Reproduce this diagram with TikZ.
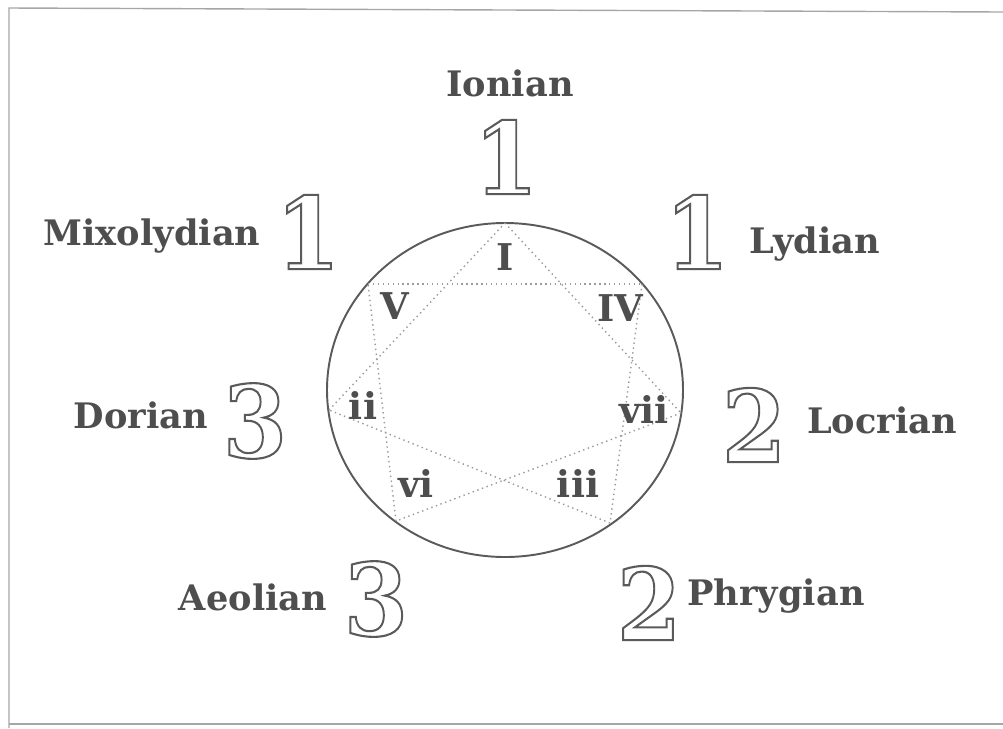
\documentclass[tikz,border=0pt]{standalone}
\usepackage{fontspec}
\usepackage{graphicx}
\newfontfamily\modefont{DejaVu Serif}
\definecolor{inkgray}{HTML}{4E4E4E}
\definecolor{rimgray}{HTML}{5A5A5A}
\definecolor{chordgray}{HTML}{9A9A9A}
% outlined digit: stroke only, no fill
\newcommand{\outnum}[1]{\scalebox{0.92}[1]{\special{pdf:literal direct 1 Tr 1.2 w}#1\special{pdf:literal direct 0 Tr}}}

\begin{document}
\begin{tikzpicture}[x=0.02cm, y=-0.02cm,
    every node/.style={inner sep=0pt},
    mode/.style={font=\modefont\bfseries\fontsize{20}{24}\selectfont, text=inkgray},
    degree/.style={font=\modefont\bfseries\fontsize{21}{24}\selectfont, text=inkgray},
    count/.style={font=\modefont\bfseries\fontsize{57}{57}\selectfont, text=rimgray},
    rim/.style={draw=rimgray, line width=1.1pt},
    chord/.style={draw=chordgray, dotted, line width=0.8pt},
    frame/.style={draw=gray!70, line width=0.8pt}
  ]
  \useasboundingbox (0,0) rectangle (1003,728);
  \draw[frame] (9,728) -- (9,8) -- (1003,12);
  \draw[frame] (9,724) -- (1003,724);

  \draw[rim] (505,390) ellipse [x radius=178, y radius=167];

  \coordinate (pI) at (505,223);
  \coordinate (pIV) at (642,284);
  \coordinate (pvii) at (681,413);
  \coordinate (piii) at (610,523);
  \coordinate (pvi) at (396,521);
  \coordinate (pii) at (329,410);
  \coordinate (pV) at (368,284);

  \foreach \a/\b in {pI/pvii, pvii/pvi, pvi/pV, pV/pIV, pIV/piii, piii/pii, pii/pI} {
    \draw[chord] (\a) -- (\b);
  }

  \node[degree] (dI) at (505,257) {I};
  \node[degree] (dIV) at (620,308) {IV};
  \node[degree] (dvii) at (644,409) {vii};
  \node[degree] (diii) at (578,483) {iii};
  \node[degree] (dvi) at (416,483) {vi};
  \node[degree] (dii) at (363,405) {ii};
  \node[degree] (dV) at (395,306) {V};

  \node[mode, anchor=base] (ionian) at (510,96) {Ionian};
  \node[count] (nIonian) at (506,157) {\outnum{1}};
  \node[mode, anchor=base] (mixolydian) at (152,245) {Mixolydian};
  \node[count] (nMixolydian) at (308,232) {\outnum{1}};
  \node[count] (nLydian) at (697,232) {\outnum{1}};
  \node[mode, anchor=base] (lydian) at (815,253) {Lydian};
  \node[mode, anchor=base] (dorian) at (141,428) {Dorian};
  \node[count] (nDorian) at (255,421) {\outnum{3}};
  \node[count] (nLocrian) at (754,425) {\outnum{2}};
  \node[mode, anchor=base] (locrian) at (882,433) {Locrian};
  \node[mode, anchor=base] (aeolian) at (253,610) {Aeolian};
  \node[count] (nAeolian) at (376,599) {\outnum{3}};
  \node[count] (nPhrygian) at (649,603) {\outnum{2}};
  \node[mode, anchor=base] (phrygian) at (776,605) {Phrygian};
\end{tikzpicture}
\end{document}
